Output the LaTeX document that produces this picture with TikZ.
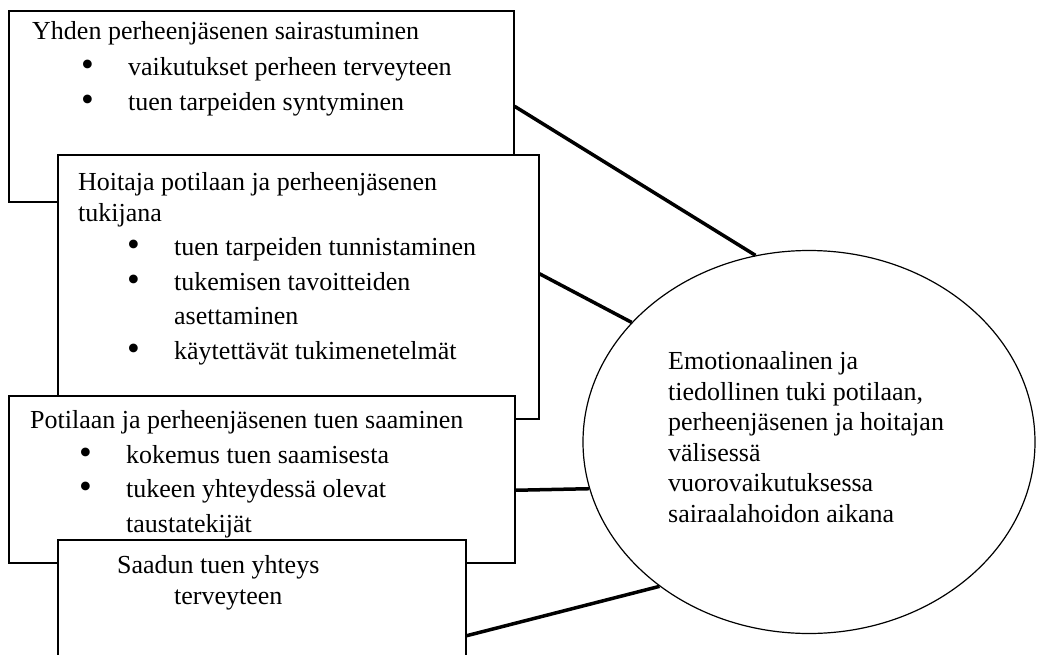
\documentclass[tikz,border=0pt]{standalone}
\usepackage{fontspec}
\usepackage{graphicx}
\setmainfont{Liberation Serif}
\usetikzlibrary{shapes.geometric,positioning}
\newcommand{\bul}[1]{\hspace*{49pt}\makebox[47pt][l]{\raisebox{-1pt}{\scalebox{1.4}{\textbullet}}}#1}

\begin{document}
\begin{tikzpicture}[x=1pt,y=-1pt]
\tikzstyle{frame}=[draw, fill=white, line width=1.5pt, inner sep=0pt, anchor=north west]
\tikzstyle{txt}=[anchor=base west, inner sep=0pt, align=left, font=\fontsize{26}{30.5}\selectfont]
\tikzstyle{link}=[line width=3.5pt]

\useasboundingbox (0,0) rectangle (1037,654);
\clip (0,0) rectangle (1037,654);

% the four boxes, each one over the last (text placed by its last baseline)
\node[frame, minimum width=505pt, minimum height=191pt] (illness) at (8,10) {};
\node[txt] (illnesstxt) at (32,110) {Yhden perheenjäsenen sairastuminen\\[6pt]
	\bul{vaikutukset perheen terveyteen}\\[4pt]
	\bul{tuen tarpeiden syntyminen}};

\node[frame, minimum width=481pt, minimum height=264pt] (care) at (57,154) {};
\node[txt] (caretxt) at (78,359) {Hoitaja potilaan ja perheenjäsenen\\tukijana\\[4pt]
	\bul{tuen tarpeiden tunnistaminen}\\[4pt]
	\bul{tukemisen tavoitteiden}\\[4pt]
	\hspace*{96pt}asettaminen\\[4pt]
	\bul{käytettävät tukimenetelmät}};

\node[frame, minimum width=506pt, minimum height=167pt] (receiving) at (8,395) {};
\node[txt] (receivingtxt) at (30,532) {Potilaan ja perheenjäsenen tuen saaminen\\[4pt]
	\bul{kokemus tuen saamisesta}\\[4pt]
	\bul{tukeen yhteydessä olevat}\\[4pt]
	\hspace*{96pt}taustatekijät};

\node[frame, minimum width=408pt, minimum height=150pt] (health) at (57,539) {};
\node[txt] (healthtxt) at (117,604) {Saadun tuen yhteys\\\hspace*{57pt}terveyteen};

% the ellipse
\node[draw, ellipse, line width=1.2pt, minimum width=452pt, minimum height=383pt, inner sep=0pt] (support) at (809,442) {};
\node[txt] (supporttxt) at (668,522) {Emotionaalinen ja\\tiedollinen tuki potilaan,\\perheenjäsenen ja hoitajan\\välisessä\\vuorovaikutuksessa\\sairaalahoidon aikana};

\draw[link] (illness.east) -- (support.106);
\draw[link] ([yshift=13pt]care.east) -- (support.146);
\draw[link] ([yshift=-11pt]receiving.east) -- (support.192);
\draw[link] ([yshift=-21pt]health.east) -- (support.224);
\end{tikzpicture}
\end{document}
